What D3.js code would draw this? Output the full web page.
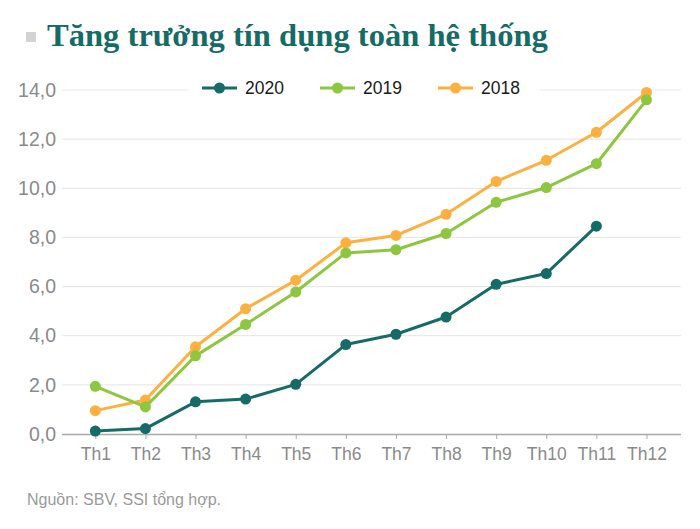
<!DOCTYPE html>
<html lang="vi">
  <head>
    <meta charset="utf-8">
    <title>Tăng trưởng tín dụng toàn hệ thống</title>
    <script src="https://d3js.org/d3.v7.min.js"></script>
    <style>
      body { margin: 0; background: #fff; }
      svg { display: block; }
    </style>
  </head>
  <body>
    <div id="chart"></div>
    <script>
      // months on the x axis
      var months = ['Th1', 'Th2', 'Th3', 'Th4', 'Th5', 'Th6', 'Th7', 'Th8', 'Th9', 'Th10', 'Th11', 'Th12'];
      // credit growth, % since start of year
      var y2020 = [0.12, 0.22, 1.31, 1.42, 2.02, 3.64, 4.06, 4.76, 6.09, 6.53, 8.46];
      var y2019 = [1.94, 1.10, 3.18, 4.46, 5.78, 7.37, 7.50, 8.16, 9.43, 10.03, 11.00, 13.60];
      var y2018 = [0.95, 1.38, 3.55, 5.10, 6.26, 7.78, 8.08, 8.94, 10.28, 11.14, 12.28, 13.90];
      var yTicks = [0, 2, 4, 6, 8, 10, 12, 14];

      var series = [
        {name: '2020', values: y2020, color: '#166b66'},
        {name: '2019', values: y2019, color: '#8dc63f'},
        {name: '2018', values: y2018, color: '#fbb040'}
      ];

      var W = 700, H = 529;
      var svg = d3.select('#chart').append('svg')
        .attr('width', W).attr('height', H);

      var x = d3.scalePoint().domain(months).range([95.3, 646.5]);
      var y = d3.scaleLinear().domain([0, 14]).range([434, 90]);
      var left = 62, right = 681;

      // title
      svg.append('rect').attr('x', 26).attr('y', 32).attr('width', 10).attr('height', 10)
        .attr('fill', '#d3d3d3');
      var title = svg.append('text')
        .attr('x', 47).attr('y', 46)
        .attr('fill', '#166b66')
        .style('font-family', '"Liberation Serif", "DejaVu Serif", serif')
        .style('font-weight', 'bold')
        .style('font-size', '28px')
        .text('Tăng trưởng tín dụng toàn hệ thống');
      // fit the title to its width in the picture
      var tw = title.node().getComputedTextLength();
      title.style('font-size', (28 * 501 / tw) + 'px');

      // gridlines
      svg.append('g').selectAll('line')
        .data(yTicks.filter(function (d) { return d > 0; }))
        .enter().append('line')
          .attr('x1', left).attr('x2', right)
          .attr('y1', function (d) { return y(d); })
          .attr('y2', function (d) { return y(d); })
          .attr('stroke', '#e9e9e9').attr('stroke-width', 1.2);

      // y axis labels
      var yAxis = d3.axisLeft(y).tickValues(yTicks).tickSize(0).tickPadding(0)
        .tickFormat(function (d) { return d3.format('.1f')(d).replace('.', ','); });
      var ga = svg.append('g').attr('transform', 'translate(56,0)').call(yAxis);
      ga.select('.domain').remove();
      ga.selectAll('text')
        .attr('fill', '#8a8a8a')
        .style('font-family', '"Liberation Sans", Arial, sans-serif')
        .style('font-size', '19.5px');

      // x axis
      var xAxis = d3.axisBottom(x).tickSize(5).tickPadding(9);
      var gx = svg.append('g').attr('transform', 'translate(0,' + y(0) + ')').call(xAxis);
      gx.select('.domain').attr('d', 'M' + left + ',0.5H' + right).attr('stroke', '#a8a8a8').attr('stroke-width', 1.5);
      gx.selectAll('.tick line').attr('stroke', '#a8a8a8');
      gx.selectAll('text')
        .attr('fill', '#8a8a8a')
        .style('font-family', '"Liberation Sans", Arial, sans-serif')
        .style('font-size', '17.5px');

      // lines + dots (drawn from 2018 up so 2020 is on top)
      var line = d3.line()
        .x(function (d, i) { return x(months[i]); })
        .y(function (d) { return y(d); });

      series.slice().reverse().forEach(function (s) {
        var g = svg.append('g');
        g.append('path').datum(s.values)
          .attr('d', line)
          .attr('fill', 'none')
          .attr('stroke', s.color)
          .attr('stroke-width', 3)
          .attr('stroke-linejoin', 'round');
        g.selectAll('circle').data(s.values).enter().append('circle')
          .attr('cx', function (d, i) { return x(months[i]); })
          .attr('cy', function (d) { return y(d); })
          .attr('r', 5.5)
          .attr('fill', s.color);
      });

      // legend
      var lg = svg.append('g');
      lg.append('rect').attr('x', 188).attr('y', 76).attr('width', 352).attr('height', 24).attr('fill', '#fff');
      var legX = [202, 320, 438];
      series.forEach(function (s, i) {
        var it = lg.append('g').attr('transform', 'translate(' + legX[i] + ',88)');
        it.append('line').attr('x1', 0).attr('x2', 35).attr('stroke', s.color).attr('stroke-width', 3);
        it.append('circle').attr('cx', 17.5).attr('r', 5.5).attr('fill', s.color);
        it.append('text').attr('x', 43).attr('dy', '0.35em')
          .attr('fill', '#1a1a1a')
          .style('font-family', '"Liberation Sans", Arial, sans-serif')
          .style('font-size', '17.5px')
          .text(s.name);
      });

      // source
      svg.append('text')
        .attr('x', 27).attr('y', 505)
        .attr('fill', '#9a9a9a')
        .style('font-family', '"Liberation Sans", Arial, sans-serif')
        .style('font-size', '16px')
        .text('Nguồn: SBV, SSI tổng hợp.');
    </script>
  </body>
</html>
